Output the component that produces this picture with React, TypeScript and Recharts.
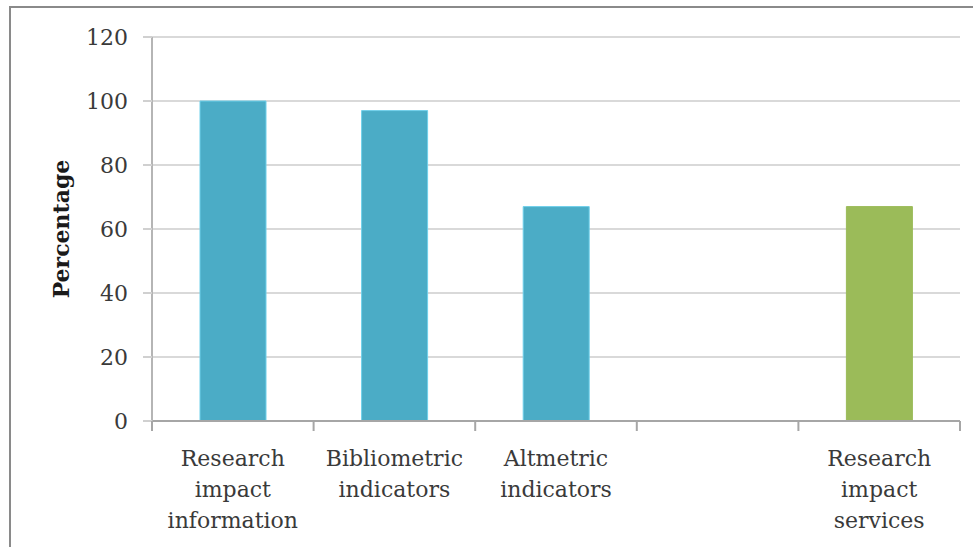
import React from "react";
import { BarChart, Bar, XAxis, YAxis, CartesianGrid, Cell } from "recharts";

const categories = [
  "Research impact information",
  "Bibliometric indicators",
  "Altmetric indicators",
  "",
  "Research impact services",
];
const percentages: (number | null)[] = [100, 97, 67, null, 67];
const barColors = ["#4bacc6", "#4bacc6", "#4bacc6", "#4bacc6", "#9bbb59"];
const yTicks = [0, 20, 40, 60, 80, 100, 120];

const data = categories.map((c, i) => ({ name: c, value: percentages[i], key: "c" + i }));

const FONT = "'DejaVu Serif', serif";
const TEXT = "#3a3a3a";
const AXIS = "#a6a6a6";

const XTick = (props: any) => {
  const { x, y, payload } = props;
  const label = categories[payload.index] || "";
  const lines = label ? label.split(" ") : [];
  const half = payload.offset ?? 0;
  const isLast = payload.index === categories.length - 1;
  return (
    <g>
      <line x1={x - half} x2={x - half} y1={y} y2={y + 10} stroke={AXIS} strokeWidth={2} />
      {isLast && <line x1={x + half} x2={x + half} y1={y} y2={y + 10} stroke={AXIS} strokeWidth={2} />}
      {lines.map((ln, i) => (
        <text
          key={i}
          x={x}
          y={y + 45 + i * 31}
          textAnchor="middle"
          fontFamily={FONT}
          fontSize={22}
          fill={TEXT}
        >
          {ln}
        </text>
      ))}
    </g>
  );
};

export default function App() {
  return (
    <div style={{ position: "absolute", left: 0, top: 0, width: 973, height: 547, background: "#fff" }}>
      <div
        style={{
          position: "absolute",
          left: 9,
          top: 6,
          width: 973,
          height: 560,
          borderTop: "2px solid #8a8a8a",
          borderLeft: "2px solid #8a8a8a",
          boxSizing: "border-box",
        }}
      />
      <div style={{ position: "absolute", left: 0, top: 0 }}>
        <BarChart
          width={973}
          height={547}
          data={data}
          margin={{ top: 37, right: 13, bottom: 26, left: 0 }}
          barCategoryGap={0}
        >
          <CartesianGrid horizontal={true} vertical={false} stroke="#d9d9d9" strokeWidth={2} />
          <XAxis
            dataKey="key"
            height={100}
            interval={0}
            tick={<XTick />}
            tickSize={0}
            tickMargin={0}
            axisLine={{ stroke: AXIS, strokeWidth: 2 }}
            tickLine={false}
          />
          <YAxis
            width={152}
            domain={[0, 120]}
            ticks={yTicks}
            interval={0}
            tickSize={9}
            tickMargin={15}
            axisLine={{ stroke: "#b5b5b5", strokeWidth: 2 }}
            tickLine={{ stroke: "#d0d0d0", strokeWidth: 2 }}
            tick={{ fontFamily: FONT, fontSize: 22, fill: TEXT }}
            label={{
              value: "Percentage",
              angle: -90,
              position: "insideLeft",
              offset: 61,
              style: { fontFamily: FONT, fontSize: 22, fontWeight: "bold", fill: "#1a1a1a", textAnchor: "middle" },
            }}
          />
          <Bar dataKey="value" barSize={66} isAnimationActive={false} strokeWidth={1}>
            {data.map((d, i) => (
              <Cell key={d.key} fill={barColors[i]} stroke={i === 4 ? "#9bbb59" : "#6fd0ea"} />
            ))}
          </Bar>
        </BarChart>
      </div>
    </div>
  );
}
